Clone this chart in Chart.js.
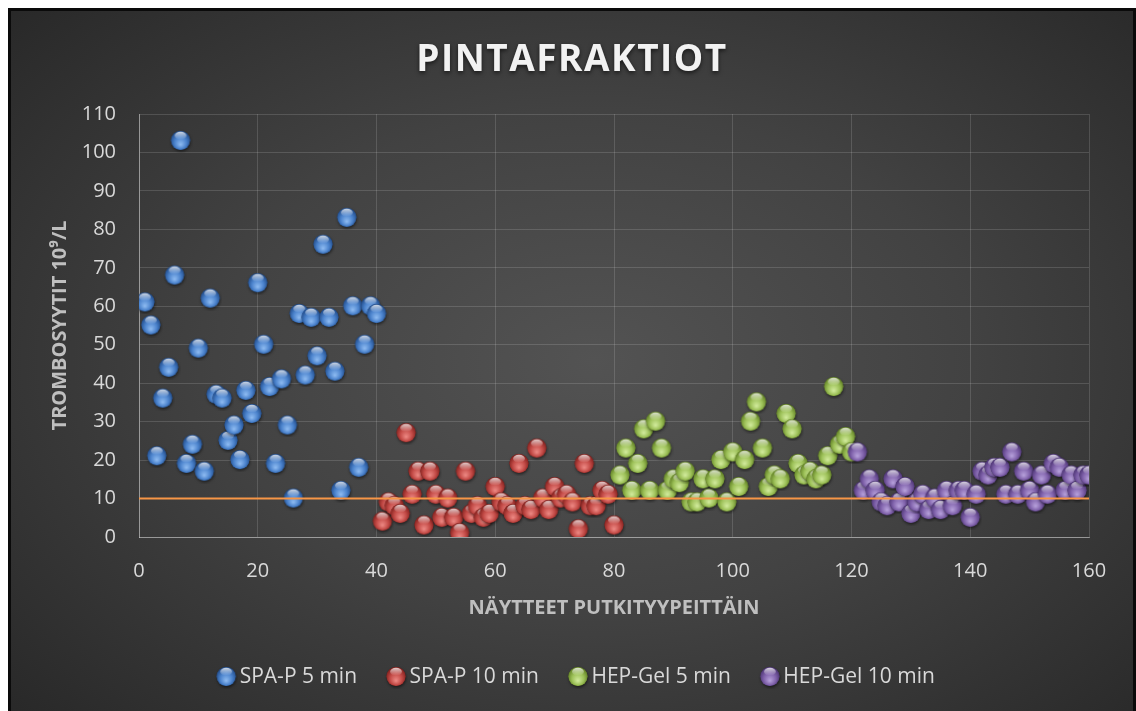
<!DOCTYPE html>
<html>
<head>
<meta charset="utf-8">
<script src="https://cdn.jsdelivr.net/npm/chart.js@4.4.0/dist/chart.umd.min.js"></script>
<style>
  html, body { margin: 0; padding: 0; background: #fff; }
  #wrap {
    position: absolute; left: 8px; top: 8px; width: 1128px; height: 706px;
    box-sizing: border-box; border: 3px solid #0a0a0a;
    background: radial-gradient(ellipse 75% 80% at 52% 50%, #535353 0%, #424242 45%, #2d2d2d 85%, #252525 100%);
  }
</style>
</head>
<body>
<div id="wrap"><canvas id="chart"></canvas></div>
<script>
// platelet counts per sample
const seriesNames = ['SPA-P 5 min', 'SPA-P 10 min', 'HEP-Gel 5 min', 'HEP-Gel 10 min'];
const firstSample = [1, 41, 81, 121];

const spaP5 = [61, 55, 21, 36, 44, 68, 103, 19, 24, 49, 17, 62, 37, 36, 25, 29, 20, 38, 32, 66,
               50, 39, 19, 41, 29, 10, 58, 42, 57, 47, 76, 57, 43, 12, 83, 60, 18, 50, 60, 58];
const spaP10 = [4, 9, 8, 6, 27, 11, 17, 3, 17, 11, 5, 10, 5, 1, 17, 6, 8, 5, 6, 13,
                9, 8, 6, 19, 8, 7, 23, 10, 7, 13, 10, 11, 9, 2, 19, 8, 8, 12, 11, 3];
const hepGel5 = [16, 23, 12, 19, 28, 12, 30, 23, 12, 15, 14, 17, 9, 9, 15, 10, 15, 20, 9, 22,
                 13, 20, 30, 35, 23, 13, 16, 15, 32, 28, 19, 16, 17, 15, 16, 21, 39, 24, 26, 22];
const hepGel10 = [22, 12, 15, 12, 9, 8, 15, 9, 13, 6, 9, 11, 7, 10, 7, 12, 8, 12, 12, 5,
                  11, 17, 16, 18, 18, 11, 22, 11, 17, 12, 9, 16, 11, 19, 18, 12, 16, 12, 16, 16];

const threshold = 10;
const xTicks = [0, 20, 40, 60, 80, 100, 120, 140, 160];
const yTicks = [0, 10, 20, 30, 40, 50, 60, 70, 80, 90, 100, 110];

const FONT = '"Open Sans", "Noto Sans", sans-serif';

// glossy ball used as point style
function makeSphere(base, light, dark) {
    const size = 24, r = 9.5, cx = 12, cy = 11.5;
    const c = document.createElement('canvas');
    c.width = size;
    c.height = size;
    const g = c.getContext('2d');
    g.save();
    g.shadowColor = 'rgba(0,0,0,0.55)';
    g.shadowBlur = 3;
    g.shadowOffsetX = 0.5;
    g.shadowOffsetY = 1.5;
    g.beginPath();
    g.arc(cx, cy, r, 0, Math.PI * 2);
    g.fillStyle = dark;
    g.fill();
    g.restore();

    const body = g.createRadialGradient(cx, cy + r * 0.45, 0, cx, cy + r * 0.1, r * 1.15);
    body.addColorStop(0, light);
    body.addColorStop(0.55, base);
    body.addColorStop(1, dark);
    g.beginPath();
    g.arc(cx, cy, r, 0, Math.PI * 2);
    g.fillStyle = body;
    g.fill();

    const hl = g.createLinearGradient(0, cy - r, 0, cy - r * 0.1);
    hl.addColorStop(0, 'rgba(255,255,255,0.85)');
    hl.addColorStop(1, 'rgba(255,255,255,0)');
    g.beginPath();
    g.ellipse(cx, cy - r * 0.5, r * 0.62, r * 0.42, 0, 0, Math.PI * 2);
    g.fillStyle = hl;
    g.fill();
    return c;
}

const spheres = [
    makeSphere('#4a82cc', '#8fbcf2', '#1d4683'),
    makeSphere('#c34a46', '#ee8a85', '#7a1c19'),
    makeSphere('#9cc057', '#d3ec9e', '#5b7a1f'),
    makeSphere('#8062ab', '#b8a2dc', '#48306f')
];

function toPoints(values, start) {
    return values.map((v, i) => ({ x: start + i, y: v }));
}

const allSeries = [spaP5, spaP10, hepGel5, hepGel10];

const datasets = allSeries.map((values, k) => ({
    label: seriesNames[k],
    data: toPoints(values, firstSample[k]),
    pointStyle: spheres[k],
    order: 4 - k
}));

datasets.push({
    label: 'raja',
    type: 'line',
    data: [{ x: xTicks[0], y: threshold }, { x: xTicks[xTicks.length - 1], y: threshold }],
    borderColor: '#f79646',
    borderWidth: 2,
    pointRadius: 0,
    order: 0
});

// title gets letter spacing and a soft shadow, legend sits a bit right of centre
const boxTweaks = {
    id: 'boxTweaks',
    afterUpdate(chart) {
        const t = chart.titleBlock;
        if (t && !t._styled) {
            const drawTitle = t.draw.bind(t);
            t.draw = (...args) => {
                const ctx = chart.ctx;
                ctx.save();
                ctx.letterSpacing = '1.5px';
                ctx.shadowColor = 'rgba(0,0,0,0.6)';
                ctx.shadowBlur = 4;
                ctx.shadowOffsetY = 2;
                drawTitle(...args);
                ctx.restore();
            };
            t._styled = true;
        }
        const l = chart.legend;
        if (l && !l._styled) {
            const drawLegend = l.draw.bind(l);
            l.draw = (...args) => {
                const ctx = chart.ctx;
                ctx.save();
                ctx.translate(7, 2);
                drawLegend(...args);
                ctx.restore();
            };
            l._styled = true;
        }
    }
};

const tickColor = '#d9d9d9';
const titleColor = '#bfbfbf';
const gridColor = 'rgba(255,255,255,0.14)';
const axisColor = 'rgba(255,255,255,0.4)';

new Chart(document.getElementById('chart'), {
    type: 'scatter',
    data: { datasets: datasets },
    plugins: [boxTweaks],
    options: {
        responsive: true,
        maintainAspectRatio: false,
        animation: false,
        events: [],
        layout: { padding: { left: 0, right: 0, top: 0, bottom: 15.5 } },
        plugins: {
            title: {
                display: true,
                text: 'PINTAFRAKTIOT',
                color: '#f2f2f2',
                font: { family: FONT, size: 37, weight: 'bold' },
                padding: { top: 26.8, bottom: 31.8 }
            },
            legend: {
                position: 'bottom',
                labels: {
                    usePointStyle: true,
                    pointStyleWidth: 6,
                    color: tickColor,
                    font: { family: FONT, size: 21 },
                    padding: 36,
                    filter: item => item.datasetIndex < 4,
                    sort: (a, b) => a.datasetIndex - b.datasetIndex
                }
            },
            tooltip: { enabled: false }
        },
        scales: {
            x: {
                type: 'linear',
                min: xTicks[0],
                max: xTicks[xTicks.length - 1],
                afterBuildTicks: s => { s.ticks = xTicks.map(v => ({ value: v })); },
                ticks: { color: tickColor, font: { family: FONT, size: 20 }, padding: 22 },
                grid: { color: gridColor, drawTicks: false },
                border: { color: axisColor, width: 1 },
                title: {
                    display: true,
                    text: 'NÄYTTEET PUTKITYYPEITTÄIN',
                    color: titleColor,
                    font: { family: FONT, size: 20, weight: 'bold' },
                    padding: { top: 0, bottom: 8.6 }
                },
                afterFit: s => { s.height = 91.5; }
            },
            y: {
                min: yTicks[0],
                max: yTicks[yTicks.length - 1],
                afterBuildTicks: s => { s.ticks = yTicks.map(v => ({ value: v })); },
                ticks: { color: tickColor, font: { family: FONT, size: 20 }, padding: 23 },
                grid: { color: gridColor, drawTicks: false },
                border: { color: axisColor, width: 1 },
                title: {
                    display: true,
                    text: 'TROMBOSYYTIT 10⁹/L',
                    color: titleColor,
                    font: { family: FONT, size: 20, weight: 'bold' },
                    padding: { top: 37.4, bottom: 0 }
                },
                afterFit: s => { s.width = 128; }
            },
            yRight: {
                position: 'right',
                min: yTicks[0],
                max: yTicks[yTicks.length - 1],
                grid: { display: false },
                border: { display: false },
                ticks: { display: false },
                afterFit: s => { s.width = 44; }
            }
        }
    }
});
</script>
</body>
</html>
